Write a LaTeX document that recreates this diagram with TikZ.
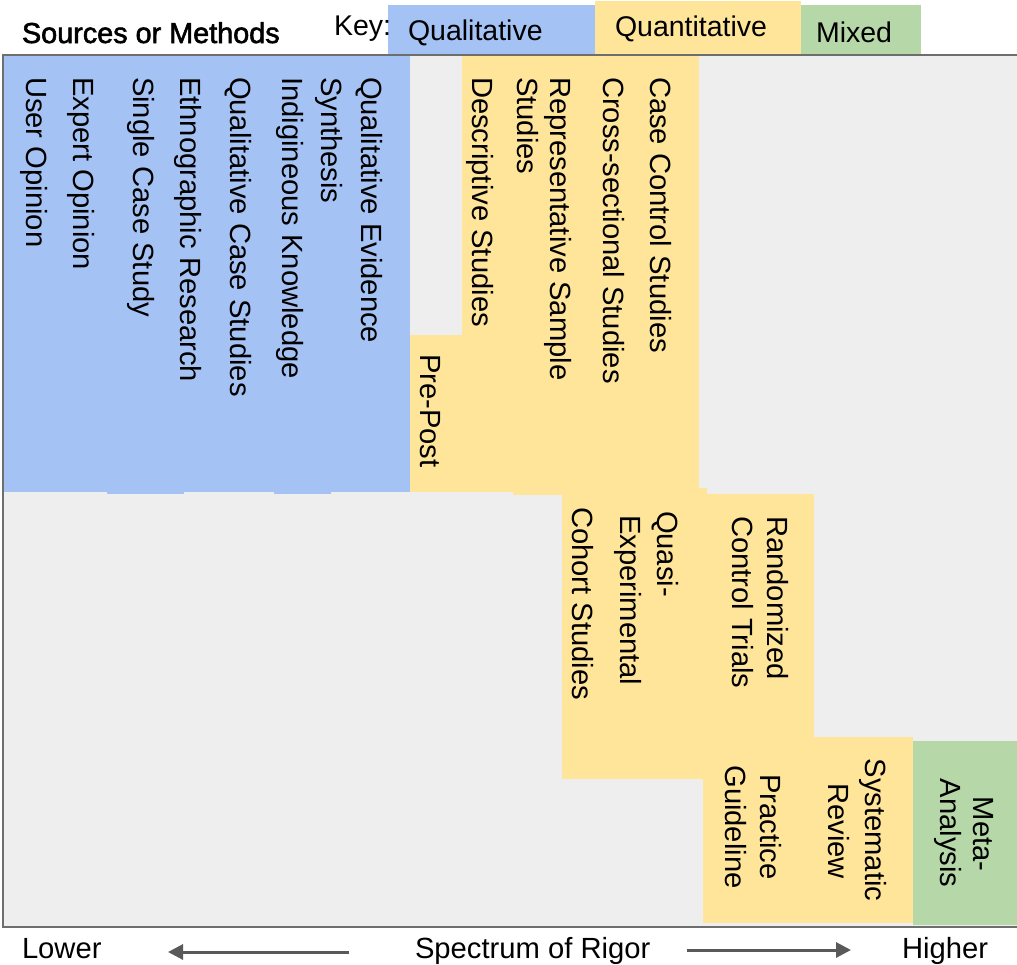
\documentclass[tikz,border=0pt]{standalone}
\usepackage{fontspec}
\setmainfont{Liberation Sans}
\newfontfamily\medfont{Liberation Sans}[FakeBold=2]
\usetikzlibrary{arrows.meta}
\definecolor{qualblue}{HTML}{A4C2F4}
\definecolor{quantyellow}{HTML}{FFE599}
\definecolor{mixgreen}{HTML}{B6D7A8}
\definecolor{panelgray}{HTML}{EEEEEE}
\definecolor{framegray}{HTML}{6E6E6E}
\definecolor{arrowgray}{HTML}{595959}
\begin{document}
\begin{tikzpicture}[x=1pt,y=-1pt,
  lbl/.style={inner sep=0pt, outer sep=0pt, font=\fontsize{29.2}{35}\selectfont, text=black},
  vlbl/.style={lbl, rotate=-90, anchor=base west},
  vclbl/.style={lbl, rotate=-90, anchor=base},
  hlbl/.style={lbl, anchor=base west},
  keylbl/.style={hlbl, font=\fontsize{28.5}{34}\selectfont},
  rigorarrow/.style={draw=arrowgray, line width=3pt, -{Triangle[length=15pt,width=15pt]}}
]
\useasboundingbox (0,0) rectangle (1017,964);
% panel
\fill[panelgray] (3,55) rectangle (1017,927);
% qualitative block
\fill[qualblue] (4,56) rectangle (410,492);
\fill[qualblue] (107,490) rectangle (184,494);
\fill[qualblue] (274,490) rectangle (331,494);
% quantitative blocks
\fill[quantyellow] (410,335) rectangle (462,492);
\fill[quantyellow] (462,56) rectangle (699,492);
\fill[quantyellow] (513,488) rectangle (562,495);
\fill[quantyellow] (562,488) rectangle (707,779);
\fill[quantyellow] (707,494) rectangle (814,737);
\fill[quantyellow] (703,737) rectangle (913,923);
% mixed block
\fill[mixgreen] (913,741) rectangle (1017,925);
% frame
\draw[framegray, line width=2pt] (3,55) rectangle (1025,927);
% key
\fill[qualblue] (388,5) rectangle (595,54);
\fill[quantyellow] (595,1) rectangle (801,54);
\fill[mixgreen] (801,5) rectangle (921,54);
\node[hlbl, font=\medfont\fontsize{28.8}{34}\selectfont] (title) at (22,43) {Sources or Methods};
\node[keylbl] (key) at (334,35) {Key:};
\node[keylbl] (kqual) at (408,40) {Qualitative};
\node[keylbl] (kquant) at (615,36) {Quantitative};
\node[keylbl] (kmixed) at (816,42) {Mixed};
% qualitative labels
\node[vlbl] (user) at (26,77) {User Opinion};
\node[vlbl] (expert) at (73,77) {Expert Opinion};
\node[vlbl] (single) at (133,77) {Single Case Study};
\node[vlbl] (ethno) at (180,77) {Ethnographic Research};
\node[vlbl] (qualcase) at (230,77) {Qualitative Case Studies};
\node[vlbl] (indig) at (282,77) {Indigineous Knowledge};
\node[vlbl] (synth) at (321,77) {Synthesis};
\node[vlbl] (qualev) at (361,77) {Qualitative Evidence};
% quantitative labels
\node[vlbl] (prepost) at (420,354) {Pre-Post};
\node[vlbl] (descr) at (472,77) {Descriptive Studies};
\node[vlbl] (repr2) at (517,77) {Studies};
\node[vlbl] (repr1) at (550,77) {Representative Sample};
\node[vlbl] (cross) at (603,77) {Cross-sectional Studies};
\node[vlbl] (casec) at (650,77) {Case Control Studies};
\node[vlbl] (cohort) at (572,507) {Cohort Studies};
\node[vlbl] (quasi2) at (620,515) {Experimental};
\node[vlbl] (quasi1) at (657,511) {Quasi-};
\node[vlbl] (rct2) at (732,516) {Control Trials};
\node[vlbl] (rct1) at (767,516) {Randomized};
\node[vclbl] (guide2) at (725,827) {Guideline};
\node[vclbl] (guide1) at (760,827) {Practice};
\node[vclbl] (sys2) at (828,831) {Review};
\node[vclbl] (sys1) at (865,830) {Systematic};
\node[vclbl] (meta2) at (940,833) {Analysis};
\node[vclbl] (meta1) at (973,834) {Meta-};
% bottom axis
\node[hlbl] (lower) at (22,958) {Lower};
\node[hlbl] (spectrum) at (415,958) {Spectrum of Rigor};
\node[hlbl] (higher) at (902,958) {Higher};
\coordinate (lstart) at (349,952);
\coordinate (lend) at (168,952);
\coordinate (rstart) at (687,950);
\coordinate (rend) at (851,950);
\draw[rigorarrow] (lstart) -- (lend);
\draw[rigorarrow] (rstart) -- (rend);
\end{tikzpicture}
\end{document}
